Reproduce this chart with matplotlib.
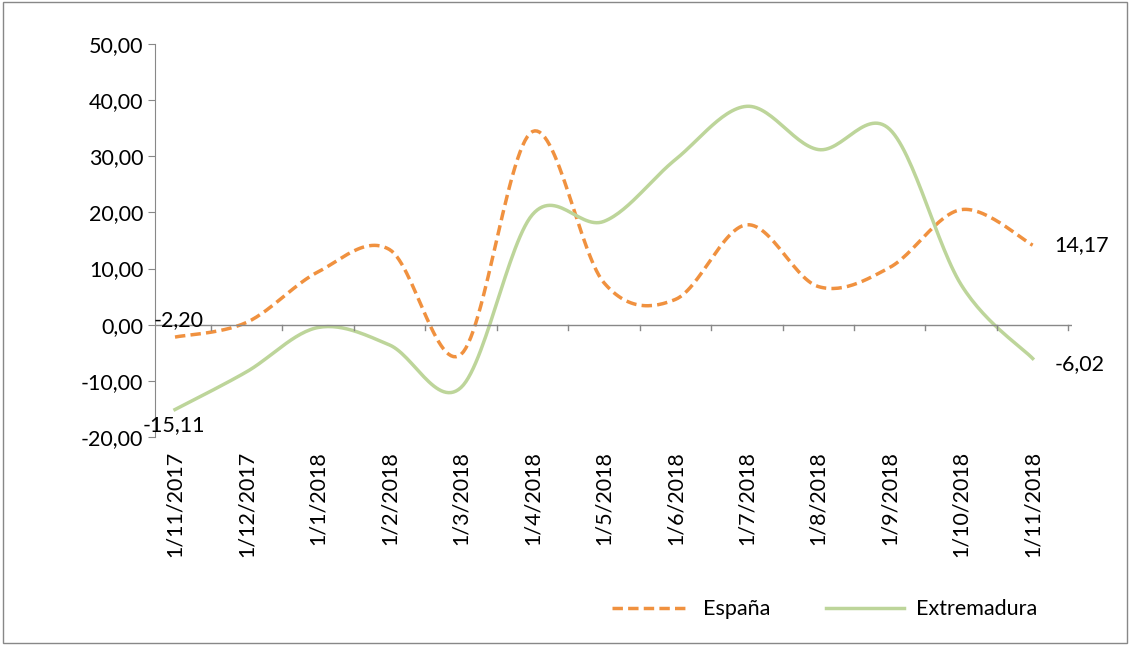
import matplotlib
matplotlib.use("Agg")
import matplotlib.pyplot as plt
import numpy as np

categories = ["1/11/2017","1/12/2017","1/1/2018","1/2/2018","1/3/2018","1/4/2018","1/5/2018",
              "1/6/2018","1/7/2018","1/8/2018","1/9/2018","1/10/2018","1/11/2018"]
espana = [-2.20, 0.4, 9.4, 13.4, -5.3, 34.4, 7.5, 4.5, 17.8, 6.8, 10.2, 20.5, 14.17]
extremadura = [-15.11, -8.4, -0.5, -3.6, -11.2, 19.6, 18.4, 29.4, 38.9, 31.2, 34.8, 7.1, -6.02]

def smooth(x, y, n=30):
    x = np.asarray(x, float); y = np.asarray(y, float)
    px = np.concatenate([[x[0]], x, [x[-1]]]); py = np.concatenate([[y[0]], y, [y[-1]]])
    X, Y = [], []
    for i in range(1, len(px) - 2):
        p0 = np.array([px[i], py[i]]); p1 = np.array([px[i+1], py[i+1]])
        c1 = p0 + (p1 - np.array([px[i-1], py[i-1]])) / 6
        c2 = p1 - (np.array([px[i+2], py[i+2]]) - p0) / 6
        t = np.linspace(0, 1, n)[:, None]
        b = (1-t)**3*p0 + 3*(1-t)**2*t*c1 + 3*(1-t)*t**2*c2 + t**3*p1
        X.extend(b[:, 0]); Y.extend(b[:, 1])
    return X, Y

plt.rcParams['font.family'] = ['Lato', 'DejaVu Sans']
FS = 15.5
fig = plt.figure(figsize=(11.3, 6.45), dpi=100)
ax = fig.add_axes([155/1130, 1-437/645, (1072-155)/1130, (437-44)/645])
xs = np.arange(len(categories))
ex, ey = smooth(xs, espana)
ax.plot(ex, ey, color="#F0913F", lw=2.5, ls=(0, (3, 1.5)), label="España")
mx, my = smooth(xs, extremadura)
ax.plot(mx, my, color="#BDD59A", lw=2.5, label="Extremadura")

ax.set_xlim(-0.28, 12.55)
ax.set_ylim(-20, 50)
ax.set_yticks(np.arange(-20, 51, 10))
ax.set_yticklabels([f"{v:.2f}".replace(".", ",") for v in np.arange(-20, 51, 10)], fontsize=FS)
for s in ["top", "right", "bottom"]:
    ax.spines[s].set_visible(False)
ax.spines["left"].set_color("#888888")
ax.axhline(0, color="#888888", lw=1)
ax.set_xticks(xs)
ax.set_xticklabels([])
ax.tick_params(axis="x", length=0)
for i, c in enumerate(categories):
    ax.text(i, -22.5, c, rotation=90, ha="center", va="top", fontsize=FS)
    ax.plot([i+0.5, i+0.5], [0, -1], color="#888888", lw=1, clip_on=False)
ax.tick_params(axis="y", color="#888888", length=5)

ax.text(-0.3, espana[0] + 1.2, "-2,20", fontsize=FS, ha="left", va="bottom")
ax.text(-0.45, extremadura[0] - 1, "-15,11", fontsize=FS, ha="left", va="top")
ax.text(12.3, espana[-1], "14,17", fontsize=FS, ha="left", va="center")
ax.text(12.3, extremadura[-1] - 1, "-6,02", fontsize=FS, ha="left", va="center")

fig.legend(loc="lower center", bbox_to_anchor=(825/1130, 0.01), ncol=2, frameon=False,
           fontsize=FS, handlelength=3.6, handletextpad=0.6, columnspacing=2.6)
fig.add_artist(plt.Rectangle((0.003, 0.003), 0.994, 0.994, transform=fig.transFigure,
                             fill=False, edgecolor="#888888", lw=1))
fig.savefig("out.png")
